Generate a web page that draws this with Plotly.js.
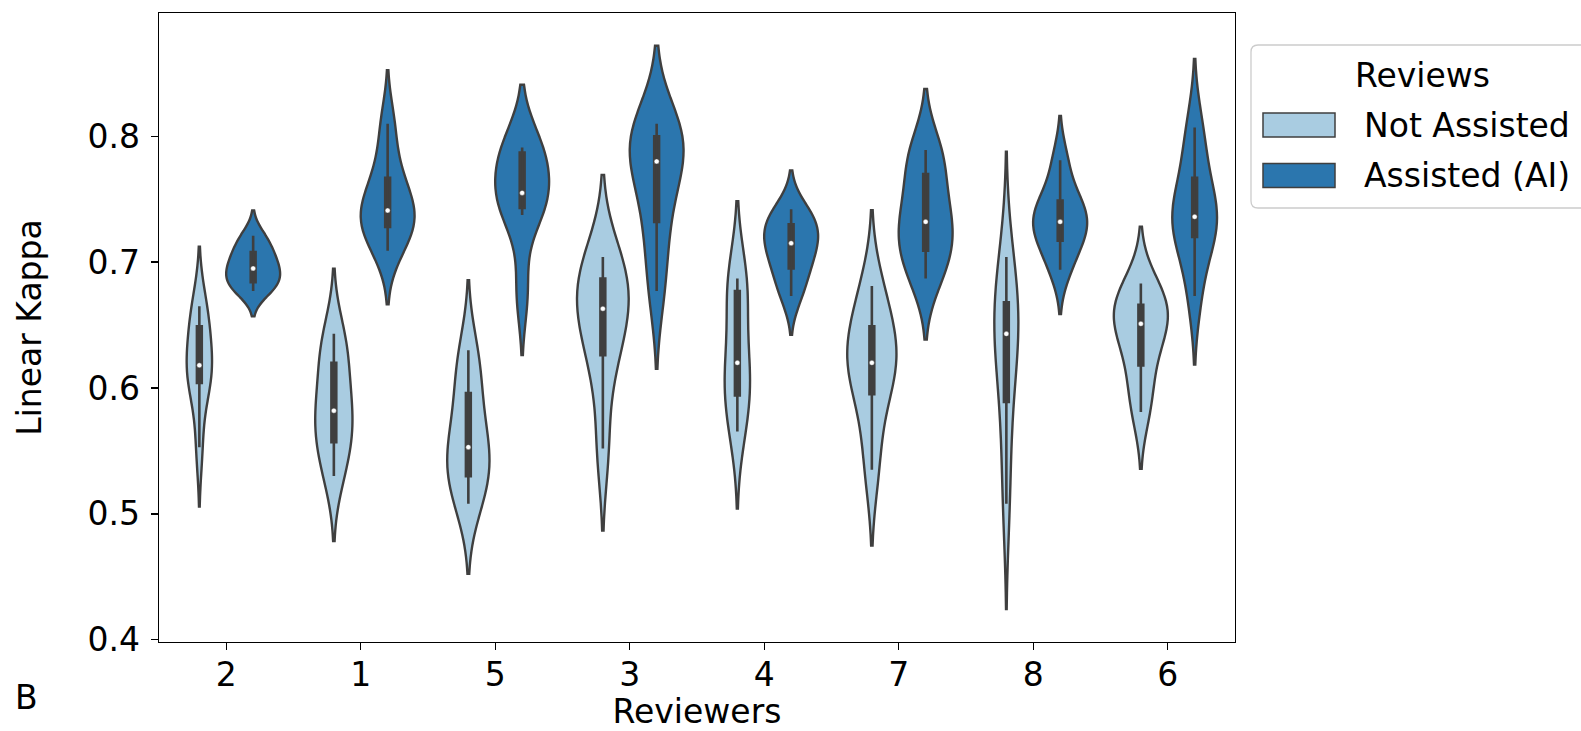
<!DOCTYPE html>
<html>
<head>
<meta charset="utf-8">
<script src="https://cdn.plot.ly/plotly-3.0.1.min.js"></script>
<style>
  html, body { margin: 0; padding: 0; background: #ffffff; }
  #chart { width: 1581px; height: 731px; }
</style>
</head>
<body>
<div id="chart"></div>
<script>
// ---------------- data ----------------
const reviewers = ["2", "1", "5", "3", "4", "7", "8", "6"];
const seriesNames = ["Not Assisted", "Assisted (AI)"];
const legendTitle = "Reviews";
const xTitle = "Reviewers";
const yTitle = "Linear Kappa";
const panelLabel = "B";

// Linear kappa samples per reviewer, "Not Assisted"
const na_r2 = [0.553, 0.599, 0.609, 0.614, 0.622, 0.640, 0.658, 0.665];
const na_r1 = [0.530, 0.549, 0.565, 0.578, 0.586, 0.611, 0.629, 0.643];
const na_r5 = [0.508, 0.5232, 0.5368, 0.549, 0.557, 0.584, 0.608, 0.630];
const na_r3 = [0.552, 0.614, 0.638, 0.659, 0.667, 0.680, 0.694, 0.704];
const na_r4 = [0.5655, 0.584, 0.604, 0.611, 0.629, 0.668, 0.686, 0.687];
const na_r7 = [0.535, 0.578, 0.612, 0.617, 0.623, 0.640, 0.658, 0.681];
const na_r8 = [0.508, 0.566, 0.612, 0.636, 0.650, 0.660, 0.676, 0.704];
const na_r6 = [0.581, 0.606, 0.630, 0.647, 0.655, 0.662, 0.670, 0.683];

// Linear kappa samples per reviewer, "Assisted (AI)"
const ai_r2 = [0.677, 0.681, 0.687, 0.692, 0.698, 0.704, 0.712, 0.721];
const ai_r1 = [0.709, 0.724, 0.732, 0.737, 0.745, 0.757, 0.777, 0.810];
const ai_r5 = [0.676, 0.7375, 0.7485, 0.751, 0.759, 0.783, 0.791, 0.791];
const ai_r3 = [0.677, 0.717, 0.747, 0.776, 0.784, 0.795, 0.805, 0.810];
const ai_r4 = [0.673, 0.689, 0.701, 0.711, 0.719, 0.726, 0.734, 0.742];
const ai_r7 = [0.687, 0.701, 0.717, 0.727, 0.737, 0.758, 0.782, 0.789];
const ai_r8 = [0.694, 0.711, 0.723, 0.729, 0.735, 0.744, 0.754, 0.781];
const ai_r6 = [0.673, 0.712, 0.728, 0.732, 0.740, 0.752, 0.782, 0.807];

const notAssisted = [na_r2, na_r1, na_r5, na_r3, na_r4, na_r7, na_r8, na_r6];
const assisted    = [ai_r2, ai_r1, ai_r5, ai_r3, ai_r4, ai_r7, ai_r8, ai_r6];
const yTicks = [0.4, 0.5, 0.6, 0.7, 0.8];

// ---------------- style ----------------
const FONT = "DejaVu Sans";
const GRAY = "#3f3f3f";
const fills = ["#a9cce1", "#2b76ae"];
const hueOffset = 0.2;   // seaborn hue dodge (each violin 0.4 wide)

// seaborn / scipy Scott rule
function scottBandwidth(v) {
  const n = v.length;
  const m = v.reduce((a, b) => a + b, 0) / n;
  const sd = Math.sqrt(v.reduce((a, b) => a + (b - m) * (b - m), 0) / (n - 1));
  return sd * Math.pow(n, -0.2);
}
function median(v) {
  const s = v.slice().sort((a, b) => a - b);
  const n = s.length;
  return n % 2 ? s[(n - 1) / 2] : (s[n / 2 - 1] + s[n / 2]) / 2;
}

const traces = [];
const medX = [], medY = [];
[notAssisted, assisted].forEach((group, s) => {
  group.forEach((vals, i) => {
    const pos = i + (s === 0 ? -hueOffset : hueOffset);
    traces.push({
      type: "violin",
      x0: pos,
      y: vals,
      name: seriesNames[s] + " – " + reviewers[i],
      scalegroup: "rev" + reviewers[i],   // area scaling inside each reviewer
      scalemode: "width",
      bandwidth: scottBandwidth(vals),
      spanmode: "soft",
      points: false,
      fillcolor: fills[s],
      opacity: 1,
      line: { color: GRAY, width: 2.4 },
      box: { visible: true, width: 0.09, fillcolor: GRAY, line: { color: GRAY, width: 2.6 } },
      meanline: { visible: false },
      showlegend: false,
      hoverinfo: "skip"
    });
    medX.push(pos);
    medY.push(median(vals));
  });
});
traces.push({
  type: "scatter", mode: "markers", x: medX, y: medY,
  marker: { color: "#ffffff", size: 5, line: { color: GRAY, width: 0.4 } },
  showlegend: false, hoverinfo: "skip", cliponaxis: false
});

// ---------------- layout ----------------
const L = 159, R = 1235, T = 13, B = 642;
const px = x => (x - L) / (R - L);
const py = y => (B - y) / (B - T);

function roundRect(x0, y0, x1, y1, r) {
  const rx = r / (R - L), ry = r / (B - T);
  const X0 = px(x0), X1 = px(x1), Y0 = py(y0), Y1 = py(y1); // Y0 top, Y1 bottom
  return `M${X0 + rx},${Y0} L${X1 - rx},${Y0} Q${X1},${Y0} ${X1},${Y0 - ry} ` +
         `L${X1},${Y1 + ry} Q${X1},${Y1} ${X1 - rx},${Y1} L${X0 + rx},${Y1} ` +
         `Q${X0},${Y1} ${X0},${Y1 + ry} L${X0},${Y0 - ry} Q${X0},${Y0} ${X0 + rx},${Y0} Z`;
}

const shapes = [{
  type: "path", xref: "paper", yref: "paper",
  path: roundRect(1251, 45, 1594, 208, 7),
  fillcolor: "rgba(255,255,255,0.8)",
  line: { color: "#cccccc", width: 1.3 }
}];
const annotations = [{
  xref: "paper", yref: "paper", x: px(1422), y: py(75),
  xanchor: "center", yanchor: "middle", showarrow: false,
  text: legendTitle, font: { family: FONT, size: 33, color: "#000" }
}];
seriesNames.forEach((nm, s) => {
  const cy = 125 + s * 50.5;
  shapes.push({
    type: "rect", xref: "paper", yref: "paper",
    x0: px(1263), x1: px(1335), y0: py(cy + 12), y1: py(cy - 12),
    fillcolor: fills[s], line: { color: GRAY, width: 1.5 }
  });
  annotations.push({
    xref: "paper", yref: "paper", x: px(1362), y: py(cy),
    xanchor: "left", yanchor: "middle", showarrow: false,
    text: nm, font: { family: FONT, size: 33, color: "#000" }
  });
});
annotations.push({
  xref: "paper", yref: "paper", x: px(26), y: py(697),
  xanchor: "center", yanchor: "middle", showarrow: false,
  text: panelLabel, font: { family: FONT, size: 33, color: "#000" }
});

const axisCommon = {
  showgrid: false, zeroline: false, showline: true, mirror: true,
  linecolor: "#000", linewidth: 1.4,
  ticks: "outside", ticklen: 7, tickwidth: 1.3, tickcolor: "#000",
  tickfont: { family: FONT, size: 33, color: "#000" }
};

const layout = {
  width: 1581, height: 731,
  margin: { l: L, r: 1581 - R, t: T, b: 731 - B, pad: 0 },
  paper_bgcolor: "#ffffff", plot_bgcolor: "#ffffff",
  font: { family: FONT, size: 33, color: "#000" },
  violinmode: "overlay",
  violingap: 0,
  violingroupgap: 0,
  showlegend: false,
  xaxis: Object.assign({}, axisCommon, {
    type: "linear", range: [-0.5, reviewers.length - 0.5],
    tickmode: "array", tickvals: reviewers.map((_, i) => i), ticktext: reviewers,
    ticklabelstandoff: -4,
    title: { text: xTitle, font: { family: FONT, size: 33, color: "#000" }, standoff: 0 }
  }),
  yaxis: Object.assign({}, axisCommon, {
    range: [0.3982, 0.8979],
    tickmode: "array", tickvals: yTicks, ticktext: yTicks.map(v => v.toFixed(1)),
    ticklabelstandoff: 4,
    title: { text: yTitle, font: { family: FONT, size: 33, color: "#000" }, standoff: 36 }
  }),
  shapes: shapes,
  annotations: annotations
};

Plotly.newPlot("chart", traces, layout, { staticPlot: true, displayModeBar: false });
</script>
</body>
</html>
